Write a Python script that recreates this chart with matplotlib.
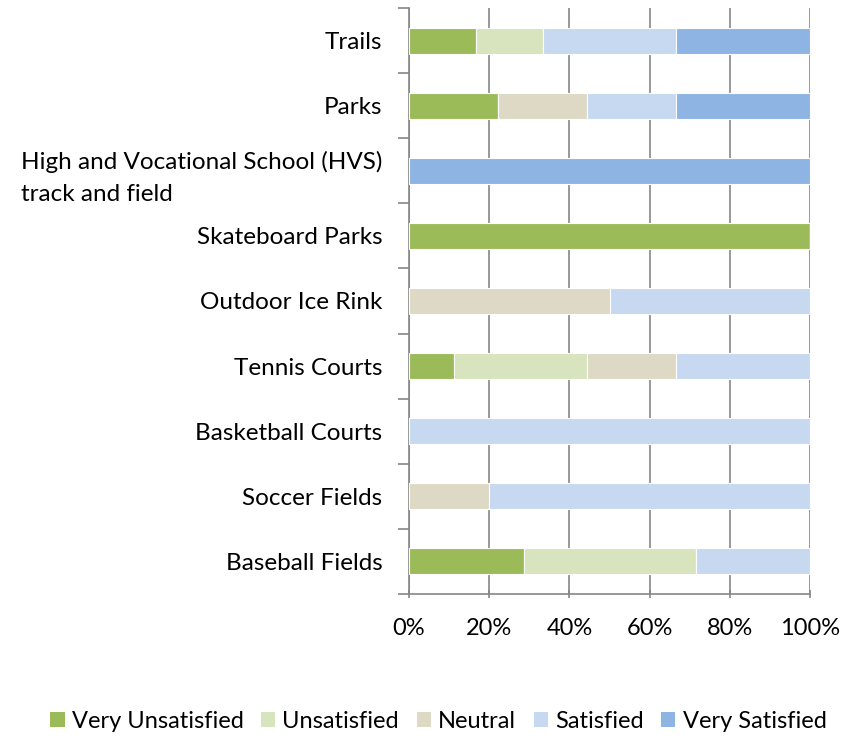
import matplotlib.pyplot as plt
import numpy as np
from matplotlib.patches import Patch

categories = ['Baseball Fields', 'Soccer Fields', 'Basketball Courts', 'Tennis Courts',
              'Outdoor Ice Rink', 'Skateboard Parks',
              'High and Vocational School (HVS)\ntrack and field', 'Parks', 'Trails']
series = ['Very Unsatisfied', 'Unsatisfied', 'Neutral', 'Satisfied', 'Very Satisfied']
very_unsatisfied = [28.6, 0, 0, 11.1, 0, 100, 0, 22.2, 16.7]
unsatisfied = [42.9, 0, 0, 33.3, 0, 0, 0, 0, 16.7]
neutral = [0, 20, 0, 22.2, 50, 0, 0, 22.2, 0]
satisfied = [28.6, 80, 100, 33.3, 50, 0, 0, 22.2, 33.3]
very_satisfied = [0, 0, 0, 0, 0, 0, 100, 33.3, 33.3]
colors = ['#9BBB59', '#D7E4BD', '#DDD9C4', '#C6D9F1', '#8EB4E3']

plt.rcParams['font.family'] = ['Lato', 'DejaVu Sans']
fig = plt.figure(figsize=(8.63, 7.36), dpi=100)
ax = fig.add_axes([409 / 863, 1 - 594 / 736, 401 / 863, 586 / 736])

y = np.arange(len(categories))
left = np.zeros(len(categories))
for vals, name, c in zip([very_unsatisfied, unsatisfied, neutral, satisfied, very_satisfied], series, colors):
    ax.barh(y, vals, left=left, height=0.4, color=c, edgecolor='white', linewidth=0.8, label=name, zorder=3)
    left += np.array(vals)

ax.set_xlim(0, 100)
ax.set_ylim(-0.5, len(categories) - 0.5)
ax.set_xticks(np.arange(0, 101, 20))
ax.set_xticklabels([f'{v}%' for v in range(0, 101, 20)], fontsize=17)
ax.set_yticks(y)
ax.set_yticklabels(categories, fontsize=17.5, multialignment='left', linespacing=1.6)
ax.set_yticks(np.arange(-0.5, len(categories), 1), minor=True)
ax.tick_params(axis='y', which='major', length=0, pad=19)
ax.tick_params(axis='y', which='minor', length=8, color='#868686', width=1.2, direction='out')
ax.tick_params(axis='x', length=6, color='#868686', width=1.2, direction='inout', pad=14)
ax.grid(axis='x', color='#868686', linewidth=1.2, zorder=0)
for s in ['top', 'right']:
    ax.spines[s].set_visible(False)
for s in ['left', 'bottom']:
    ax.spines[s].set_color('#868686')
    ax.spines[s].set_linewidth(1.2)

handles = [Patch(facecolor=c, label=n) for c, n in zip(colors, series)]
fig.legend(handles=handles, loc='center', bbox_to_anchor=(0.508, 1 - 721 / 736), ncol=5, frameon=False,
           fontsize=17, handlelength=0.6, handleheight=0.6, handletextpad=0.3, columnspacing=0.75)

fig.savefig('out.png', dpi=100)
